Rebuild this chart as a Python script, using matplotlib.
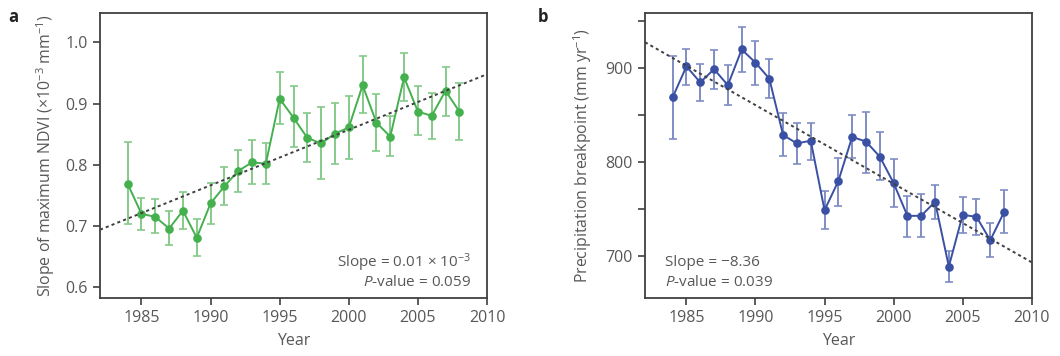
import matplotlib
matplotlib.use("Agg")
import matplotlib.pyplot as plt
import numpy as np

plt.rcParams['font.family'] = ['Open Sans', 'DejaVu Sans']
plt.rcParams['mathtext.fontset'] = 'custom'
plt.rcParams['mathtext.rm'] = 'Open Sans'
plt.rcParams['mathtext.it'] = 'Open Sans:italic'
plt.rcParams['mathtext.default'] = 'regular'

years = list(range(1984, 2009))

# Panel a: slope of maximum NDVI (x10^-3 mm^-1)
ndvi = [0.769, 0.720, 0.715, 0.696, 0.725, 0.681, 0.737, 0.765, 0.790, 0.804,
        0.802, 0.908, 0.877, 0.844, 0.835, 0.851, 0.861, 0.930, 0.869, 0.846,
        0.943, 0.887, 0.880, 0.921, 0.887]
ndvi_hi = [0.838, 0.746, 0.744, 0.724, 0.756, 0.712, 0.770, 0.797, 0.825, 0.841,
           0.836, 0.952, 0.928, 0.884, 0.894, 0.901, 0.913, 0.978, 0.916, 0.880,
           0.983, 0.928, 0.918, 0.960, 0.934]
ndvi_lo = [0.703, 0.694, 0.688, 0.669, 0.696, 0.651, 0.703, 0.734, 0.755, 0.768,
           0.769, 0.867, 0.829, 0.804, 0.777, 0.802, 0.809, 0.884, 0.822, 0.814,
           0.904, 0.849, 0.843, 0.880, 0.841]
ndvi_trend_x = [1982, 2010]
ndvi_trend_y = [0.694, 0.948]

# Panel b: precipitation breakpoint (mm yr^-1)
precip = [869, 902, 885, 899, 882, 920, 906, 889, 829, 820,
          823, 749, 780, 827, 822, 806, 778, 743, 743, 758,
          689, 744, 742, 717, 747]
precip_hi = [913, 921, 905, 919, 903, 944, 929, 910, 852, 842,
             842, 769, 805, 850, 854, 832, 804, 764, 766, 776,
             706, 763, 761, 735, 770]
precip_lo = [825, 882, 865, 878, 861, 896, 882, 868, 807, 798,
             802, 729, 754, 805, 789, 781, 752, 721, 720, 740,
             673, 725, 723, 699, 725]
precip_trend_x = [1982, 2010]
precip_trend_y = [927.7, 693.6]

xticks = [1985, 1990, 1995, 2000, 2005, 2010]

txt_col = '#585858'
spine_col = '#404040'
FS = 11

fig = plt.figure(figsize=(10.6, 3.56), dpi=100)
axa = fig.add_axes([100/1060, 1-298/356, 387/1060, 285/356])
axb = fig.add_axes([645/1060, 1-298/356, 386.7/1060, 285/356])


def style(ax):
    for s in ax.spines.values():
        s.set_color(spine_col)
        s.set_linewidth(1.3)
    ax.tick_params(direction='out', length=5, width=1.2, color=spine_col,
                   labelcolor=txt_col, labelsize=FS + 0.5, pad=4)
    ax.set_xticks(xticks)
    ax.set_xlim(1982, 2010)
    ax.set_xlabel('Year', color=txt_col, fontsize=FS + 0.5, labelpad=5)


def draw(ax, y, lo, hi, col, ecol):
    y = np.array(y)
    err = [y - np.array(lo), np.array(hi) - y]
    ax.errorbar(years, y, yerr=err, fmt='none', ecolor=ecol, elinewidth=1.4,
                capsize=2.7, capthick=1.2, zorder=2)
    ax.plot(years, y, '-', color=col, lw=1.4, marker='o', ms=6.2,
            markeredgewidth=0, zorder=3)


green = '#45b04e'
green_err = '#86c98a'
blue = '#3a50a3'
blue_err = '#7f8dc4'

# Panel a
style(axa)
draw(axa, ndvi, ndvi_lo, ndvi_hi, green, green_err)
axa.plot(ndvi_trend_x, ndvi_trend_y, color='#404040', lw=1.4,
         linestyle=(0, (1.6, 1.6)), zorder=4)
axa.set_ylim(0.5825, 1.048)
axa.set_yticks([0.6, 0.7, 0.8, 0.9, 1.0])
axa.set_yticklabels(['0.6', '0.7', '0.8', '0.9', '1.0'])
axa.set_ylabel('Slope of maximum NDVI (×10$^{−3}$ mm$^{−1}$)', color=txt_col,
               fontsize=FS + 0.4, labelpad=6)
axa.text(0.958, 0.123, 'Slope = 0.01 × 10$^{−3}$', transform=axa.transAxes,
         ha='right', va='center', color=txt_col, fontsize=FS)
axa.text(0.958, 0.053, r'$\mathit{P}$-value = 0.059', transform=axa.transAxes,
         ha='right', va='center', color=txt_col, fontsize=FS)

# Panel b
style(axb)
draw(axb, precip, precip_lo, precip_hi, blue, blue_err)
axb.plot(precip_trend_x, precip_trend_y, color='#404040', lw=1.4,
         linestyle=(0, (1.6, 1.6)), zorder=4)
axb.set_ylim(655.6, 958.8)
axb.set_yticks([700, 750, 800, 850, 900, 950])
axb.set_yticklabels(['700', '', '800', '', '900', ''])
axb.set_ylabel('Precipitation breakpoint (mm yr$^{−1}$)', color=txt_col,
               fontsize=FS + 0.4, labelpad=8)
axb.text(0.052, 0.123, 'Slope = −8.36', transform=axb.transAxes,
         ha='left', va='center', color=txt_col, fontsize=FS)
axb.text(0.052, 0.053, r'$\mathit{P}$-value = 0.039', transform=axb.transAxes,
         ha='left', va='center', color=txt_col, fontsize=FS)

fig.text(13/1060, 1-17/356, 'a', fontweight='bold', fontsize=12,
         ha='center', va='center', color='#222222')
fig.text(543/1060, 1-17/356, 'b', fontweight='bold', fontsize=12,
         ha='center', va='center', color='#222222')

fig.savefig('out.png', dpi=100)
